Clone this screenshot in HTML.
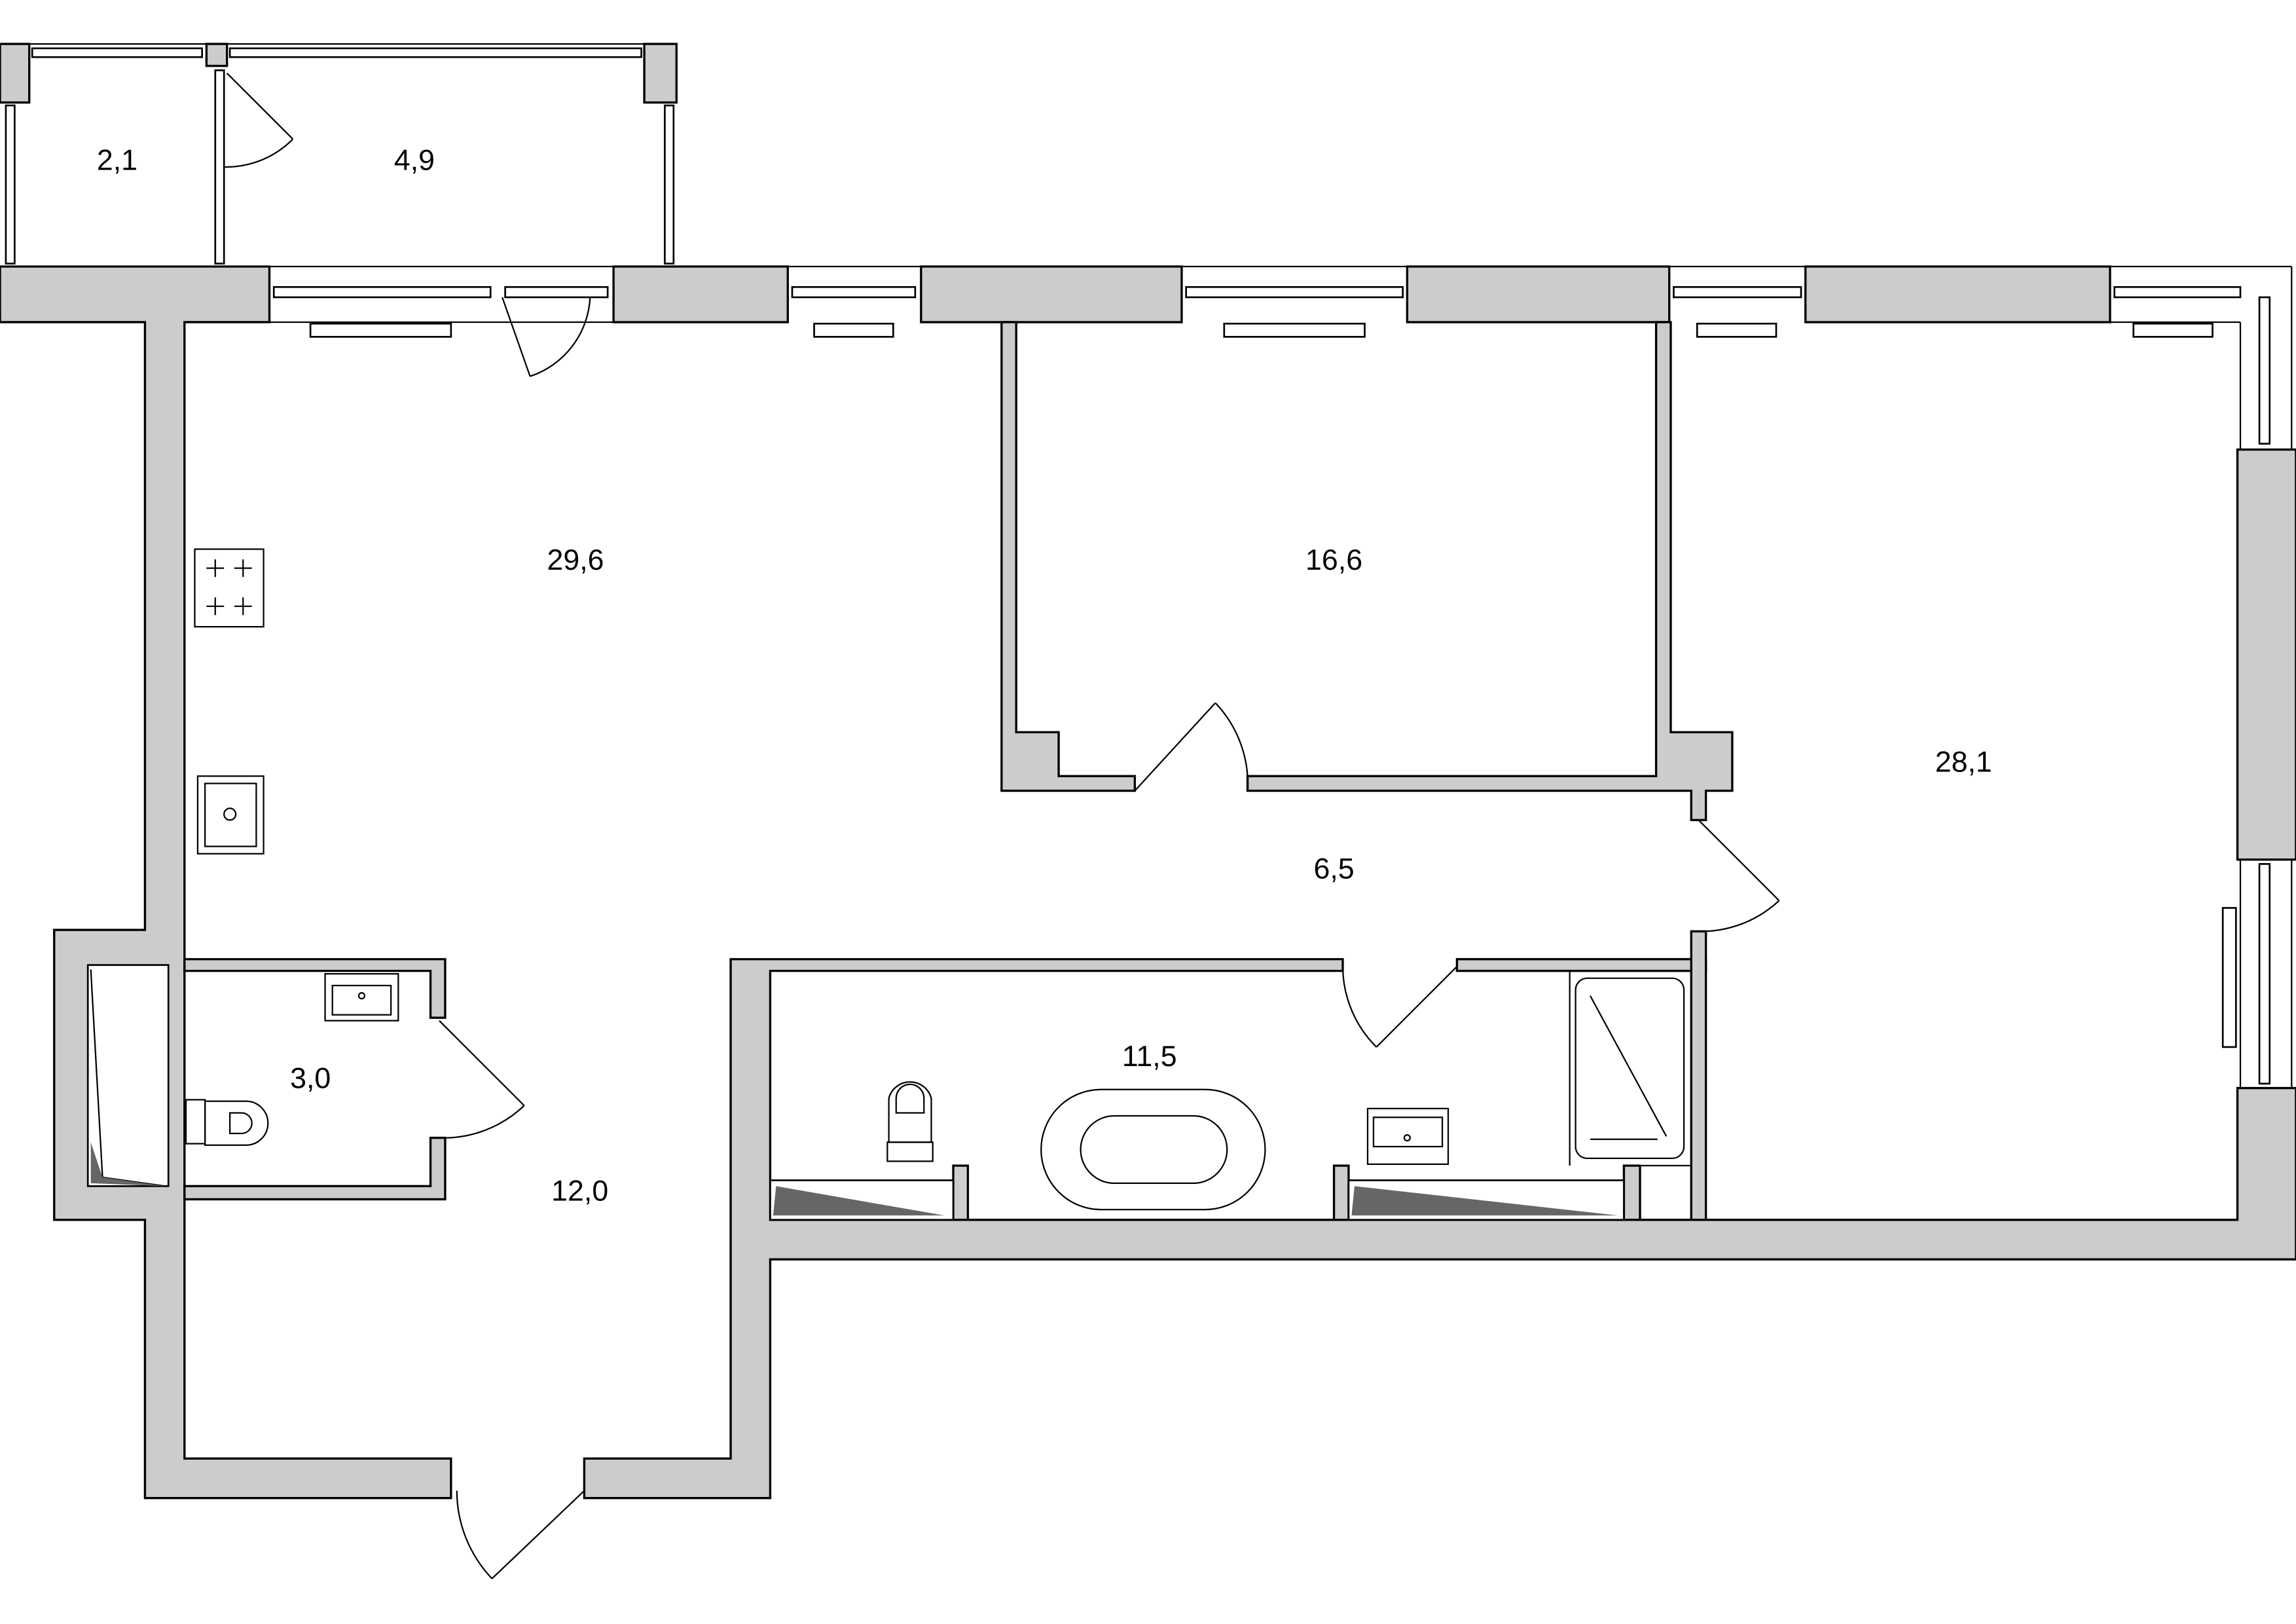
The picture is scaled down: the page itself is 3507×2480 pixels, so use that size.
<!DOCTYPE html>
<html><head><meta charset="utf-8"><style>
html,body{margin:0;padding:0;background:#fff}
svg{display:block}
text{font-family:"Liberation Sans",sans-serif;font-size:20px;fill:#000;text-anchor:middle}
</style></head><body>
<svg width="3507" height="2480" viewBox="0 0 1568 1109" preserveAspectRatio="none" xmlns="http://www.w3.org/2000/svg">
<g fill="#ccc" stroke="#000" stroke-width="1.5">
<polygon points="0,182 184,182 184,220 126,220 126,996 308,996 308,1023 99,1023 99,833 37,833 37,635 99,635 99,220 0,220"/>
<rect x="419" y="182" width="119" height="38"/>
<rect x="629" y="182" width="178" height="38"/>
<rect x="961" y="182" width="179" height="38"/>
<rect x="1233" y="182" width="208" height="38"/>
<rect x="1528" y="307" width="40" height="280"/>
<polygon points="684,220 694,220 694,500 723,500 723,530 775,530 775,540 684,540"/>
<polygon points="852,530 1131,530 1131,220 1141,220 1141,500 1183,500 1183,540 1165,540 1165,560 1155,560 1155,540 852,540"/>
<polygon points="499,655 917,655 917,663 526,663 526,833 1528,833 1528,743 1568,743 1568,860 526,860 526,1023 399,1023 399,996 499,996"/>
<rect x="995" y="655" width="170" height="8"/>
<rect x="1155" y="636" width="10" height="197"/>
<polygon points="126,655 304,655 304,695 294,695 294,663 126,663"/>
<polygon points="294,777 304,777 304,819 126,819 126,810 294,810"/>
<rect x="651" y="796" width="10" height="37"/>
<rect x="911" y="796" width="10" height="37"/>
<rect x="1109" y="796" width="11" height="37"/>
<rect x="0" y="30" width="20" height="40"/>
<rect x="141" y="30" width="14" height="15"/>
<rect x="440" y="30" width="22" height="40"/>
</g>
<g fill="#fff" stroke="#000" stroke-width="1.2">
<rect x="60" y="659" width="55" height="151"/>
<rect x="526" y="806" width="125" height="27"/>
<rect x="921" y="806" width="188" height="27"/>
<rect x="187" y="196" width="148" height="7"/>
<rect x="345" y="196" width="70" height="7"/>
<rect x="541" y="196" width="84" height="7"/>
<rect x="810" y="196" width="148" height="7"/>
<rect x="1143" y="196" width="87" height="7"/>
<rect x="1444" y="196" width="86" height="7"/>
<rect x="1543" y="203" width="7" height="100"/>
<rect x="1543" y="590" width="7" height="150"/>
<rect x="212" y="221" width="96" height="9"/>
<rect x="556" y="221" width="54" height="9"/>
<rect x="836" y="221" width="96" height="9"/>
<rect x="1159" y="221" width="54" height="9"/>
<rect x="1457" y="221" width="54" height="9"/>
<rect x="1518" y="620" width="9" height="95"/>
<rect x="22" y="33" width="116" height="6"/>
<rect x="157" y="33" width="281" height="6"/>
<rect x="4" y="72" width="6" height="108"/>
<rect x="147" y="48" width="6" height="132"/>
<rect x="454" y="72" width="6" height="108"/>
</g>
<g fill="none" stroke="#000" stroke-width="1">
<line x1="184" y1="182" x2="1565" y2="182"/>
<line x1="1565" y1="182" x2="1565" y2="307"/>
<line x1="1441" y1="220" x2="1530" y2="220"/>
<line x1="1530" y1="220" x2="1530" y2="307"/>
<line x1="184" y1="220" x2="419" y2="220"/>
<line x1="1530" y1="587" x2="1530" y2="743"/>
<line x1="1565" y1="587" x2="1565" y2="743"/>
<line x1="2" y1="30" x2="462" y2="30"/>
<line x1="155" y1="50" x2="200" y2="95"/><path d="M200,95 A64,64 0 0 1 153,114"/>
<line x1="343" y1="203" x2="362" y2="257"/><path d="M362,257 A60,60 0 0 0 403,203"/>
<line x1="775" y1="540" x2="830" y2="480"/><path d="M830,480 A80,80 0 0 1 852,540"/>
<line x1="1160" y1="560" x2="1215" y2="615"/><path d="M1215,615 A78,78 0 0 1 1160,636"/>
<line x1="995" y1="660" x2="940" y2="715"/><path d="M940,715 A78,78 0 0 1 917,660"/>
<line x1="300" y1="697" x2="358" y2="755"/><path d="M358,755 A80,80 0 0 1 300,777"/>
<line x1="399" y1="1018" x2="336" y2="1078"/><path d="M336,1078 A87,87 0 0 1 312,1018"/>
<rect x="133" y="375" width="47" height="53"/>
<path d="M141,388h12M147,382v12M160,388h12M166,382v12M141,414h12M147,408v12M160,414h12M166,408v12"/>
<rect x="135" y="530" width="45" height="53"/><rect x="140" y="535" width="35" height="43"/><circle cx="157" cy="556" r="4"/>
<rect x="222" y="665" width="50" height="32"/><rect x="227" y="673" width="40" height="20"/><circle cx="247" cy="680" r="2"/>
<rect x="127" y="751" width="13" height="30"/><path d="M140,752 H168 A15,15 0 0 1 168,782 H140 Z"/><path d="M157,760 h8 a7,7 0 0 1 0,14 h-8 z"/>
<rect x="606" y="780" width="31" height="13"/><path d="M607,780 V750 A15,15 0 0 1 636,750 V780 Z"/><path d="M612,750 a9,9 0 0 1 19,0 v10 h-19 z"/>
<rect x="711" y="744" width="153" height="82" rx="41"/><rect x="738" y="762" width="100" height="46" rx="23"/>
<rect x="934" y="757" width="55" height="38"/><rect x="938" y="763" width="47" height="20"/><circle cx="961" cy="777" r="2"/>
<line x1="1072" y1="663" x2="1072" y2="796"/>
<rect x="1076" y="668" width="74" height="123" rx="8"/>
<line x1="1086" y1="680" x2="1138" y2="776"/><line x1="1086" y1="778" x2="1132" y2="778"/>
<line x1="1120" y1="796" x2="1155" y2="796"/>
<line x1="62" y1="662" x2="70" y2="804"/><line x1="70" y1="804" x2="113" y2="810"/>
</g>
<g fill="#666"><polygon points="62,808 62,780 70,804 113,810"/><polygon points="528,830 530,810 645,830"/><polygon points="923,830 925,810 1105,830"/></g>
<text x="80" y="116">2,1</text>
<text x="283" y="116">4,9</text>
<text x="393" y="389">29,6</text>
<text x="911" y="389">16,6</text>
<text x="1341" y="527">28,1</text>
<text x="911" y="600">6,5</text>
<text x="785" y="728">11,5</text>
<text x="212" y="743">3,0</text>
<text x="396" y="820">12,0</text>
</svg>
</body></html>
